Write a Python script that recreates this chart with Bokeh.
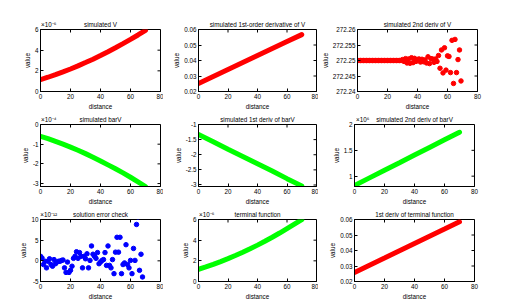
from bokeh.plotting import figure
from bokeh.layouts import column, row
from bokeh.models import Range1d, FixedTicker, LinearAxis
from bokeh.embed import file_html
from bokeh.resources import INLINE

FONT = "Liberation Sans"
FS = "6.3px"

# ---------------- data ----------------
x_ticks = [0, 20, 40, 60, 80]
x_tick_labels = ["0", "20", "40", "60", "80"]

x_smooth = [0, 5, 10, 15, 20, 25, 30, 35, 40, 45, 50, 55, 60, 65, 70]
x_lin = [0, 10, 20, 30, 40, 50, 60, 70]

sim_V = [1.14, 1.38, 1.63, 1.90, 2.18, 2.48, 2.80, 3.13, 3.48, 3.85, 4.23, 4.63, 5.04, 5.47, 5.92]
sim_dV = [0.0252, 0.0297, 0.0342, 0.0387, 0.0432, 0.0477, 0.0522, 0.0567]

x_d2V = list(range(0, 70))
sim_d2V = [272.25] * 30 + [
    272.2503, 272.2497, 272.2506, 272.2492, 272.2505, 272.2491, 272.2509, 272.2493,
    272.2507, 272.2497, 272.2503, 272.2505, 272.2495, 272.2504, 272.2496, 272.2502,
    272.2492, 272.2512, 272.2490, 272.2506, 272.2505, 272.2494, 272.2505, 272.2497,
    272.2516, 272.2475, 272.2534, 272.2460, 272.2541, 272.2469, 272.2515, 272.2513,
    272.2461, 272.2565, 272.2426, 272.2568, 272.2461, 272.2503, 272.2534, 272.2434]

sim_barV = [-0.60, -0.72, -0.86, -1.00, -1.15, -1.31, -1.48, -1.66, -1.85, -2.05, -2.25, -2.46, -2.68, -2.91, -3.15]
sim_dbarV = [-1.33, -1.57, -1.82, -2.06, -2.30, -2.54, -2.79, -3.03]
sim_d2barV = [0.82, 0.967, 1.114, 1.261, 1.409, 1.556, 1.703, 1.85]

x_err = list(range(0, 69))
err_check = [1.1, 0.7, -0.9, -0.1, -1.7, -0.1, 0.5, -0.9, -1.3, 0.3,
             -0.7, -0.3, -0.1, -0.1, 0.1, 0.2, -1.7, -2.8, -0.3, -2.8,
             -2.3, -1.3, 0.6, 1.1, 2.2, 0.6, 2.0, 1.1, -1.7, 1.1,
             0.5, 1.7, -1.7, 0.1, 3.6, 1.6, 1.1, 0.6, 2.0, -0.7,
             -0.3, 0.1, 0.3, 2.0, -1.1, 3.6, -1.1, -1.7, 0.3, -3.1,
             2.1, 5.7, 2.1, 5.7, -3.1, -0.9, -0.5, 3.9, -0.9, -1.7,
             0.1, -3.1, 3.0, 0.1, 8.8, 10.6, -2.3, 1.6, -3.9]

term_f = [1.18, 1.41, 1.66, 1.93, 2.21, 2.51, 2.83, 3.17, 3.52, 3.89, 4.28, 4.69, 5.12, 5.55, 5.98]
term_df = [0.0258, 0.0305, 0.0351, 0.0398, 0.0445, 0.0492, 0.0538, 0.0585]

titles = ["simulated V", "simulated 1st-order derivative of V", "simulated 2nd deriv of V",
          "simulated barV", "simulated 1st deriv of barV", "simulated 2nd deriv of barV",
          "solution error check", "terminal function", "1st deriv of terminal function"]

y_ranges = [(0, 6), (0.02, 0.06), (272.24, 272.26),
            (-3.15, 0), (-3.05, -1), (0.8, 2),
            (-5, 10), (0, 6), (0.02, 0.06)]

y_ticks = [[0, 2, 4, 6], [0.02, 0.03, 0.04, 0.05, 0.06],
           [272.24, 272.245, 272.25, 272.255, 272.26],
           [-3, -2, -1, 0], [-3, -2.5, -2, -1.5, -1], [1, 1.5, 2],
           [-5, 0, 5, 10], [0, 2, 4, 6], [0.02, 0.03, 0.04, 0.05, 0.06]]
y_tick_labels = [["0", "2", "4", "6"], ["0.02", "0.03", "0.04", "0.05", "0.06"],
                 ["272.24", "272.245", "272.25", "272.255", "272.26"],
                 ["-3", "-2", "-1", "0"], ["-3", "-2.5", "-2", "-1.5", "-1"], ["1", "1.5", "2"],
                 ["-5", "0", "5", "10"], ["0", "2", "4", "6"], ["0.02", "0.03", "0.04", "0.05", "0.06"]]

exponents = ["\u00d710\u207b\u2076", "", "", "\u00d710\u207b\u2074", "", "\u00d710\u2076",
             "\u00d710\u207b\u00b9\u00b2", "\u00d710\u207b\u2076", ""]

# ---------------- layout params ----------------
FRAME_H = 62
frame_w = [120, 118, 120]
left_b = [40, 35, 36]
right_b = [3, 2, 10]
top_b = [29, 9, 9]
bottom_b = [18, 20, 20]
TICK = 3
TITLE_X = 40      # title centred over the axes
EXP_X = 5.5       # exponent text centre, near the top-left corner


def style_axis(ax):
    ax.major_tick_in = TICK
    ax.major_tick_out = 0
    ax.minor_tick_line_color = None
    ax.axis_line_color = "black"
    ax.major_tick_line_color = "black"
    ax.major_label_text_font = FONT
    ax.major_label_text_color = "black"
    ax.major_label_text_font_size = FS
    ax.major_label_standoff = 2
    ax.axis_label_text_font = FONT
    ax.axis_label_text_font_size = FS
    ax.axis_label_text_font_style = "normal"
    ax.axis_label_text_color = "black"
    ax.axis_label_standoff = 1


def make_panel(i):
    r, c = divmod(i, 3)
    y0, y1 = y_ranges[i]
    p = figure(frame_width=frame_w[c], frame_height=FRAME_H,
               x_range=Range1d(0, 80), y_range=Range1d(y0, y1),
               output_backend="svg", toolbar_location=None,
               min_border_left=left_b[c], min_border_right=right_b[c],
               min_border_top=top_b[r], min_border_bottom=bottom_b[r])
    p.xgrid.visible = False
    p.ygrid.visible = False
    p.outline_line_color = "black"
    p.background_fill_color = "white"
    p.border_fill_color = "white"

    p.xaxis.ticker = FixedTicker(ticks=x_ticks)
    p.yaxis.ticker = FixedTicker(ticks=y_ticks[i])
    p.xaxis.major_label_overrides = dict(zip(x_ticks, x_tick_labels))
    p.yaxis.major_label_overrides = dict(zip(y_ticks[i], y_tick_labels[i]))
    p.xaxis.axis_label = "distance"
    p.yaxis.axis_label = "value"
    style_axis(p.xaxis[0])
    style_axis(p.yaxis[0])

    # title line above the box: title text plus (optional) x10^n exponent at the left
    top_pos = [TITLE_X]
    top_txt = {TITLE_X: titles[i]}
    if exponents[i]:
        top_pos = [EXP_X, TITLE_X]
        top_txt[EXP_X] = exponents[i]
    ta = LinearAxis(ticker=FixedTicker(ticks=top_pos), major_label_overrides=top_txt)
    style_axis(ta)
    ta.axis_line_color = None
    ta.major_tick_line_color = None
    ta.major_tick_in = 0
    ta.major_label_policy.__class__  # keep default policy
    p.add_layout(ta, "above")

    # mirrored (box) ticks on the top and right edges
    dy = (y1 - y0) * TICK / FRAME_H
    dx = 80 * TICK / frame_w[c]
    p.segment(x0=x_ticks, y0=[y1] * len(x_ticks), x1=x_ticks, y1=[y1 - dy] * len(x_ticks),
              line_color="black", line_width=1)
    p.segment(x0=[80] * len(y_ticks[i]), y0=y_ticks[i], x1=[80 - dx] * len(y_ticks[i]),
              y1=y_ticks[i], line_color="black", line_width=1)
    return p


panels = [make_panel(i) for i in range(9)]

RED, GREEN, BLUE = "#ff0000", "#00ff00", "#0000ff"

panels[0].line(x_smooth, sim_V, line_color=RED, line_width=5, line_cap="round")
panels[1].line(x_lin, sim_dV, line_color=RED, line_width=5, line_cap="round")
panels[2].scatter(x_d2V, sim_d2V, size=4.5, color=RED)
panels[3].line(x_smooth, sim_barV, line_color=GREEN, line_width=5, line_cap="round")
panels[4].line(x_lin, sim_dbarV, line_color=GREEN, line_width=5, line_cap="round")
panels[5].line(x_lin, sim_d2barV, line_color=GREEN, line_width=5, line_cap="round")
panels[6].scatter(x_err, err_check, size=4.5, color=BLUE)
panels[7].line(x_smooth, term_f, line_color=GREEN, line_width=5, line_cap="round")
panels[8].line(x_lin, term_df, line_color=RED, line_width=5, line_cap="round")

layout = column(row(panels[0:3]), row(panels[3:6]), row(panels[6:9]))

open("out.html", "w").write(file_html(layout, INLINE))
